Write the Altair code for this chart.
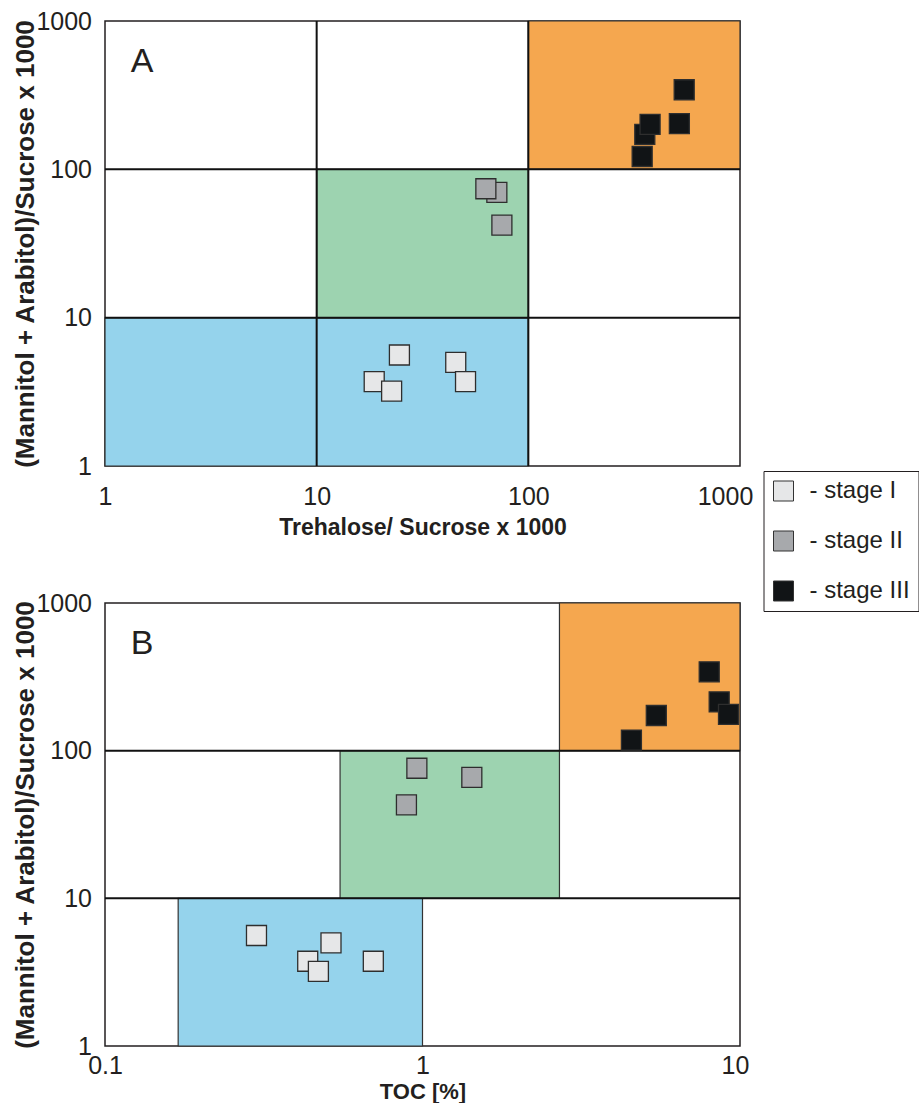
import altair as alt
import pandas as pd

# ---------------- data ----------------
stages = ["stage I", "stage II", "stage III"]
stage_colors = ["#E6E7E8", "#A7A9AC", "#111416"]

# Panel A : Trehalose/Sucrose x1000 vs (Mannitol+Arabitol)/Sucrose x1000
a_s1_x = [24.6, 18.7, 22.6, 45.4, 50.5]
a_s1_y = [5.6, 3.7, 3.2, 5.0, 3.7]
a_s2_x = [71, 63, 75]
a_s2_y = [70, 74, 42]
a_s3_x = [545, 517, 355, 376, 345]
a_s3_y = [344, 203, 172, 201, 122]

# Panel B : TOC [%] vs (Mannitol+Arabitol)/Sucrose x1000
b_s1_x = [0.30, 0.515, 0.435, 0.47, 0.70]
b_s1_y = [5.6, 5.0, 3.75, 3.2, 3.75]
b_s2_x = [0.96, 1.43, 0.89]
b_s2_y = [76, 66, 43]
b_s3_x = [8.0, 8.6, 9.2, 5.45, 4.55]
b_s3_y = [342, 214, 176, 173, 118]

zones = ["low", "medium", "high"]
zone_colors = ["#95D3EC", "#9DD3B0", "#F5A74F"]
a_zone_x1 = [1, 10, 100]
a_zone_x2 = [100, 100, 1000]
a_zone_y1 = [1, 10, 100]
a_zone_y2 = [10, 100, 1000]
b_zone_x1 = [0.17, 0.55, 2.7]
b_zone_x2 = [1, 2.7, 10]
b_zone_y1 = [1, 10, 100]
b_zone_y2 = [10, 100, 1000]

a_vlines = [10, 100]
a_hlines = [10, 100]
b_hlines = [10, 100]

a_ticks_x = [1, 10, 100, 1000]
b_ticks_x = [0.1, 1, 10]
ticks_y = [1, 10, 100, 1000]

panel_labels = ["A", "B"]
y_title = "(Mannitol + Arabitol)/Sucrose x 1000"
a_x_title = "Trehalose/ Sucrose x 1000"
b_x_title = "TOC [%]"

FONT = "Liberation Sans"
INK = "#231F20"


def points_frame(xs_list, ys_list):
    rows = []
    for stage, xs, ys in zip(stages, xs_list, ys_list):
        for x, y in zip(xs, ys):
            rows.append({"x": x, "y": y, "stage": stage})
    return pd.DataFrame(rows)


def panel(label, zx1, zx2, zy1, zy2, vlines, hlines, pts, xdom, xticks,
          xtitle, x_title_size, x_label_pad, x_title_y, last_offset, height):
    xs = alt.Scale(type="log", domain=xdom, nice=False)
    ys = alt.Scale(type="log", domain=[1, 1000], nice=False)
    x_axis = alt.Axis(
        values=xticks, format="~g", ticks=False, domain=False, grid=False,
        labelFlush=False, labelFontSize=25, labelColor=INK, labelFont=FONT,
        labelPadding=x_label_pad,
        labelOffset={"condition": {"test": f"datum.value >= {xdom[1]}", "value": last_offset}, "value": 0},
        title=xtitle, titleFontSize=x_title_size, titleFontWeight="bold",
        titleFont=FONT, titleColor=INK, titleBaseline="alphabetic", titleY=x_title_y,
    )
    y_axis = alt.Axis(
        values=ticks_y, format="~g", ticks=False, domain=False, grid=False,
        labelFontSize=25, labelColor=INK, labelFont=FONT, labelPadding=13.5,
        title=y_title, titleFontSize=26, titleFontWeight="bold", titleFont=FONT,
        titleColor=INK, titleX=-80, titleBaseline="middle",
    )
    zone_df = pd.DataFrame({"x1": zx1, "x2": zx2, "y1": zy1, "y2": zy2, "zone": zones})
    rects = alt.Chart(zone_df).mark_rect(stroke="#333333", strokeWidth=1.2).encode(
        x=alt.X("x1:Q", scale=xs, axis=x_axis),
        x2="x2:Q",
        y=alt.Y("y1:Q", scale=ys, axis=y_axis),
        y2="y2:Q",
        fill=alt.Fill("zone:N", scale=alt.Scale(domain=zones, range=zone_colors), legend=None),
    )
    layers = [rects]
    if vlines:
        layers.append(
            alt.Chart(pd.DataFrame({"v": vlines})).mark_rule(color="#111111", strokeWidth=2).encode(
                x=alt.X("v:Q", scale=xs, axis=x_axis)
            )
        )
    if hlines:
        layers.append(
            alt.Chart(pd.DataFrame({"h": hlines})).mark_rule(color="#111111", strokeWidth=2).encode(
                y=alt.Y("h:Q", scale=ys, axis=y_axis)
            )
        )
    legend = alt.Legend(
        orient="none", legendX=658.5, legendY=450, title=None,
        strokeColor=INK, padding=8, rowPadding=26,
        symbolType="square", symbolSize=400, symbolStrokeColor="#333333",
        symbolStrokeWidth=1, symbolOpacity=1,
        labelFontSize=24, labelFont=FONT, labelColor=INK, labelOffset=14,
        labelExpr="'- ' + datum.label",
    )
    layers.append(
        alt.Chart(pts).mark_square(size=400, stroke="#2E2E2E", strokeWidth=1.3, opacity=1).encode(
            x=alt.X("x:Q", scale=xs, axis=x_axis),
            y=alt.Y("y:Q", scale=ys, axis=y_axis),
            color=alt.Color("stage:N", scale=alt.Scale(domain=stages, range=stage_colors), legend=legend),
        )
    )
    layers.append(
        alt.Chart(pd.DataFrame({"t": [label]})).mark_text(
            fontSize=34, font=FONT, color=INK, align="center", baseline="middle"
        ).encode(text="t:N", x=alt.value(37), y=alt.value(41))
    )
    return alt.layer(*layers).properties(width=635, height=height)


chart_a = panel(
    panel_labels[0], a_zone_x1, a_zone_x2, a_zone_y1, a_zone_y2, a_vlines, a_hlines,
    points_frame([a_s1_x, a_s2_x, a_s3_x], [a_s1_y, a_s2_y, a_s3_y]),
    [1, 1000], a_ticks_x, a_x_title, 23, 18, 68, -15, 445,
)
chart_b = panel(
    panel_labels[1], b_zone_x1, b_zone_x2, b_zone_y1, b_zone_y2, [], b_hlines,
    points_frame([b_s1_x, b_s2_x, b_s3_x], [b_s1_y, b_s2_y, b_s3_y]),
    [0.1, 10], b_ticks_x, b_x_title, 22, 7, 52, -5, 443,
)

chart = alt.VConcatChart(vconcat=[chart_a, chart_b], spacing=137, bounds="flush").properties(
    padding={"left": 11, "top": 8, "right": 0, "bottom": 0}
).configure(background="white", font=FONT).configure_view(stroke=INK, strokeWidth=1.5)

chart.save("out.html", embed_options={"renderer": "svg", "actions": False})
